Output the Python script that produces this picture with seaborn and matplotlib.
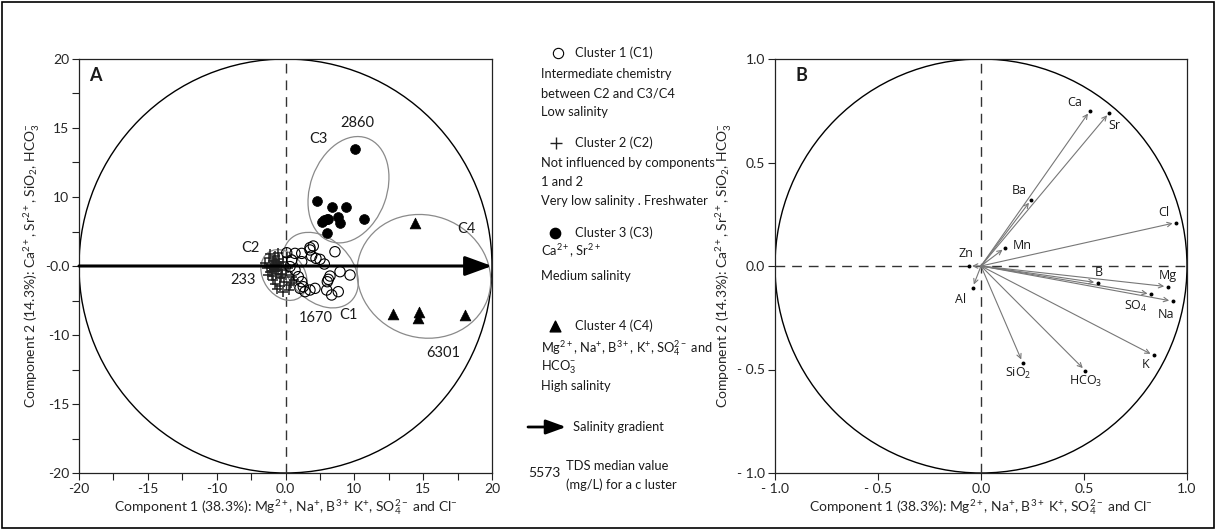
import numpy as np
import pandas as pd
import matplotlib
matplotlib.use("Agg")
import matplotlib.pyplot as plt
import seaborn as sns
from matplotlib.patches import Ellipse, Circle, Rectangle

# ---------------- data: panel A (PCA scores) ----------------
c1_x = [0.12, 0.92, 1.57, 2.37, 2.53, 4.79, 3.34, 1.57, 6.25, 5.28, 4.31, 4.05, 5.11, 3.99,
        4.47, 2.86, 2.37, 1.40, 1.57, 1.24, 0.92, 0.60, 0.44, 1.72, 1.89, 2.37, 2.69, 2.95,
        3.76, 4.15]
c1_y = [1.28, 1.22, 1.22, 1.55, 0.97, 1.38, 0.64, 0.42, -0.87, -0.55, -0.97, -1.52, -2.48, -2.32,
        -2.80, -2.16, -2.32, -2.16, -1.52, -1.03, -0.39, 0.58, -0.06, -2.00, -2.48, 1.77, 1.93, 0.74,
        0.19, -1.29]
c2_x = [-2.0, -1.8, -1.6, -1.5, -1.4, -1.3, -1.2, -1.1, -1.0, -0.9, -0.8, -0.7, -0.6, -0.5,
        -0.4, -0.3, -0.2, -0.1, 0.0, 0.2, 0.4, 0.6, 0.8, -1.7, -1.5, -1.2, -0.9, -0.6, -0.3,
        0.1, -1.3, -1.0, -0.7, -0.4, 0.3, -0.8, -0.5, -0.2, 0.5, -1.1, -1.4, -0.9, -1.2, -0.6]
c2_y = [0.3, -0.2, 0.8, -0.6, 0.1, -1.0, 0.5, -0.3, 1.0, -0.8, 0.2, -0.5, 0.7, -1.2,
        0.0, -0.4, 0.4, -1.5, -0.9, -0.2, -1.8, -1.1, -1.4, -0.9, 1.2, -1.4, 0.4, -0.1, -0.8,
        0.9, -0.5, -1.7, 1.3, -1.1, -2.3, -2.2, -1.9, -2.5, -1.6, 0.6, -0.2, -0.3, 0.0, 0.3]
c3_x = [6.76, 3.08, 4.53, 5.86, 7.60, 3.73, 4.15, 5.11, 5.28, 3.50, 3.99, 3.99]
c3_y = [11.27, 6.28, 5.73, 5.73, 4.57, 4.44, 4.57, 4.76, 4.12, 4.28, 3.16, 4.51]
c4_x = [12.54, 10.44, 12.96, 12.80, 17.38]
c4_y = [4.12, -4.64, -4.41, -5.06, -4.73]

cluster_names = ["C1", "C2", "C3", "C4"]
tds_median = ["1670", "233", "2860", "6301"]

a_xtick_labels = ["-20", "-15", "-10", "0.0", "10", "15", "20"]
a_ytick_labels = ["-20", "-15", "-10", "-0.0", "10", "15", "20"]

# ---------------- data: panel B (loadings) ----------------
variables = ["Ca", "Sr", "Ba", "Cl", "Mn", "Zn", "B", "Mg", "SO$_4$", "Na", "K",
             "HCO$_3$", "SiO$_2$", "Al"]
pc1 = [0.529, 0.623, 0.243, 0.947, 0.118, -0.060, 0.566, 0.906, 0.825, 0.930, 0.838,
       0.506, 0.202, -0.041]
pc2 = [0.750, 0.741, 0.319, 0.210, 0.089, 0.000, -0.081, -0.100, -0.136, -0.170, -0.432,
       -0.505, -0.467, -0.105]
b_ticks = [-1.0, -0.5, 0.0, 0.5, 1.0]
b_tick_labels = ["- 1.0", "- 0.5", "0.0", "0.5", "1.0"]

# ---------------- style ----------------
sns.set_theme(style="white")
FONT = "Lato"
plt.rcParams["font.family"] = [FONT, "DejaVu Sans"]
plt.rcParams["mathtext.fontset"] = "custom"
plt.rcParams["mathtext.rm"] = FONT
plt.rcParams["mathtext.it"] = FONT + ":italic"
plt.rcParams["mathtext.bf"] = FONT + ":bold"
plt.rcParams["mathtext.default"] = "regular"
plt.rcParams["axes.edgecolor"] = "#222222"
plt.rcParams["text.color"] = "#1a1a1a"

W, H = 1216, 530
fig = plt.figure(figsize=(W / 100, H / 100), dpi=100)

# helper pixel-space axes for the legend column
lax = fig.add_axes([0, 0, 1, 1])
lax.set_xlim(0, W)
lax.set_ylim(H, 0)
lax.axis("off")
lax.patch.set_alpha(0)

axA = fig.add_axes([79 / W, 1 - 473 / H, 413 / W, 414 / H])
axB = fig.add_axes([775 / W, 1 - 473 / H, 412 / W, 414 / H])

# ---------------- panel A ----------------
dfA = pd.DataFrame({
    "x": c1_x + c2_x + c3_x + c4_x,
    "y": c1_y + c2_y + c3_y + c4_y,
    "cluster": ["C1"] * len(c1_x) + ["C2"] * len(c2_x) + ["C3"] * len(c3_x) + ["C4"] * len(c4_x),
})

axA.add_patch(Circle((0, 0), 20, fill=False, ec="black", lw=1.0, zorder=1))
axA.axvline(0, color="#333333", lw=1.0, ls=(0, (7, 5)), zorder=1)

ell_gray = "#8a8a8a"
for (cx, cy, w, h, ang) in [(3.4, -0.4, 8.4, 6.0, -45), (-0.15, -0.87, 5.3, 4.0, -55),
                            (6.1, 7.37, 7.4, 10.6, -20), (13.4, -1.0, 13.1, 11.8, -20)]:
    axA.add_patch(Ellipse((cx, cy), w, h, angle=ang, fill=False, ec=ell_gray, lw=0.9, zorder=2))

sns.scatterplot(data=dfA[dfA.cluster == "C2"], x="x", y="y", ax=axA, marker="+",
                color="#222222", s=60, linewidth=1.1, legend=False, zorder=3)
sns.scatterplot(data=dfA[dfA.cluster == "C1"], x="x", y="y", ax=axA, marker="o",
                facecolor="none", edgecolor="black", s=55, linewidth=0.8, legend=False, zorder=4)
sns.scatterplot(data=dfA[dfA.cluster == "C3"], x="x", y="y", ax=axA, marker="o",
                color="black", edgecolor="black", s=50, linewidth=0.5, legend=False, zorder=4)
sns.scatterplot(data=dfA[dfA.cluster == "C4"], x="x", y="y", ax=axA, marker="^",
                color="black", edgecolor="black", s=60, linewidth=0.5, legend=False, zorder=4)

axA.annotate("", xy=(20, 0), xytext=(-20, 0),
             arrowprops=dict(arrowstyle="-|>,head_length=0.55,head_width=0.2", lw=2.2,
                             color="black", mutation_scale=30, shrinkA=0, shrinkB=0),
             zorder=5)

lab_fs = 10.5
for txt, (tx, ty) in zip(["C3", "C4", "C2", "C1"],
                         [(3.2, 12.3), (17.5, 3.6), (-3.4, 1.7), (6.1, -4.7)]):
    axA.text(tx, ty, txt, ha="center", va="center", fontsize=lab_fs)
for txt, (tx, ty) in zip(tds_median, [(2.9, -5.0), (-4.1, -1.4), (6.95, 13.85), (15.3, -8.4)]):
    axA.text(tx, ty, txt, ha="center", va="center", fontsize=lab_fs)

axA.text(0.025, 0.98, "A", transform=axA.transAxes, ha="left", va="top",
         fontsize=13, fontweight="bold")

axA.set_xlim(-20, 20)
axA.set_ylim(-20, 20)
ticksA = np.linspace(-20, 20, 7)
minorA = (ticksA[:-1] + ticksA[1:]) / 2
axA.set_xticks(ticksA)
axA.set_xticklabels(a_xtick_labels)
axA.set_yticks(ticksA)
axA.set_yticklabels(a_ytick_labels)
axA.set_xticks(minorA, minor=True)
axA.set_yticks(minorA, minor=True)
axA.tick_params(which="both", direction="out", length=5, width=0.8, color="#222222",
                labelsize=10, bottom=True, left=True, pad=2)
axA.set_xlabel("Component 1 (38.3%): Mg$^{2+}$, Na$^{+}$, B$^{3+}$ K$^{+}$, SO$_4^{2-}$ and Cl$^{-}$",
               fontsize=10, labelpad=2)
axA.set_ylabel("Component 2 (14.3%): Ca$^{2+}$, Sr$^{2+}$, SiO$_2$, HCO$_3^{-}$",
               fontsize=10, labelpad=2)
for sp in axA.spines.values():
    sp.set_linewidth(0.9)

# ---------------- panel B ----------------
dfB = pd.DataFrame({"var": variables, "pc1": pc1, "pc2": pc2})

axB.add_patch(Circle((0, 0), 1, fill=False, ec="black", lw=1.0, zorder=1))
axB.axvline(0, color="#333333", lw=1.0, ls=(0, (7, 5)), zorder=1)
axB.axhline(0, color="#333333", lw=1.0, ls=(0, (7, 5)), zorder=1)
for _, r in dfB.iterrows():
    axB.annotate("", xy=(r.pc1, r.pc2), xytext=(0, 0),
                 arrowprops=dict(arrowstyle="->", color="#777777", lw=0.8,
                                 mutation_scale=8, shrinkA=0, shrinkB=2.5), zorder=2)
sns.scatterplot(data=dfB, x="pc1", y="pc2", ax=axB, color="black", s=8, linewidth=0,
                legend=False, zorder=3)

b_label_pos = [(0.453, 0.789), (0.648, 0.677), (0.186, 0.364), (0.886, 0.258), (0.199, 0.101),
               (-0.073, 0.061), (0.574, -0.032), (0.906, -0.048), (0.752, -0.197),
               (0.898, -0.233), (0.80, -0.477), (0.510, -0.558), (0.181, -0.52),
               (-0.097, -0.162)]
for v, (tx, ty) in zip(variables, b_label_pos):
    axB.text(tx, ty, v, ha="center", va="center", fontsize=9, family=["Open Sans", "DejaVu Sans"])

axB.text(0.05, 0.98, "B", transform=axB.transAxes, ha="left", va="top",
         fontsize=13, fontweight="bold")
axB.set_xlim(-1, 1)
axB.set_ylim(-1, 1)
axB.set_xticks(b_ticks)
axB.set_xticklabels(b_tick_labels)
axB.set_yticks(b_ticks)
axB.set_yticklabels(b_tick_labels)
axB.tick_params(direction="out", length=5, width=0.8, color="#222222", labelsize=10,
                bottom=True, left=True, pad=2)
axB.set_xlabel("Component 1 (38.3%): Mg$^{2+}$, Na$^{+}$, B$^{3+}$ K$^{+}$, SO$_4^{2-}$ and Cl$^{-}$",
               fontsize=10, labelpad=2)
axB.set_ylabel("Component 2 (14.3%): Ca$^{2+}$, Sr$^{2+}$, SiO$_2$, HCO$_3^{-}$",
               fontsize=10, labelpad=2)
for sp in axB.spines.values():
    sp.set_linewidth(0.9)

# ---------------- legend column ----------------
lfs = 9.3
lx = 541
tx = 575
lax.scatter([558], [53], marker="o", s=55, facecolor="white", edgecolor="black", linewidth=0.8)
lax.text(tx, 53, "Cluster 1 (C1)", va="center", fontsize=lfs)
for yy, t in [(74, "Intermediate chemistry"), (93, "between C2 and C3/C4"), (112, "Low salinity")]:
    lax.text(lx, yy, t, va="center", fontsize=lfs)

lax.scatter([556], [143], marker="+", s=70, color="#222222", linewidth=1.0)
lax.text(tx, 143, "Cluster 2 (C2)", va="center", fontsize=lfs)
for yy, t in [(163, "Not influenced by components"), (182, "1 and 2"),
              (201, "Very low salinity . Freshwater")]:
    lax.text(lx, yy, t, va="center", fontsize=lfs)

lax.scatter([555], [233], marker="o", s=55, color="black")
lax.text(tx, 233, "Cluster 3 (C3)", va="center", fontsize=lfs)
for yy, t in [(251, "Ca$^{2+}$, Sr$^{2+}$"), (276, "Medium salinity")]:
    lax.text(lx, yy, t, va="center", fontsize=lfs)

lax.scatter([555], [326], marker="^", s=60, color="black")
lax.text(tx, 326, "Cluster 4 (C4)", va="center", fontsize=lfs)
for yy, t in [(348, "Mg$^{2+}$, Na$^{+}$, B$^{3+}$, K$^{+}$, SO$_4^{2-}$ and"),
              (367, "HCO$_3^{-}$"), (386, "High salinity")]:
    lax.text(lx, yy, t, va="center", fontsize=lfs)

lax.annotate("", xy=(566, 427), xytext=(528, 427),
             arrowprops=dict(arrowstyle="-|>,head_length=0.55,head_width=0.2", lw=2.0,
                             color="black", mutation_scale=22, shrinkA=0, shrinkB=0))
lax.text(573, 427, "Salinity gradient", va="center", fontsize=lfs)
lax.text(560, 473, "5573", va="center", ha="right", fontsize=10)
lax.text(566, 466, "TDS median value", va="center", fontsize=lfs)
lax.text(566, 485, "(mg/L) for a c luster", va="center", fontsize=lfs)

# outer frame
fig.add_artist(Rectangle((0.0015, 0.003), 0.997, 0.994, transform=fig.transFigure,
                         fill=False, ec="black", lw=1.2))

fig.savefig("out.png", dpi=100)
